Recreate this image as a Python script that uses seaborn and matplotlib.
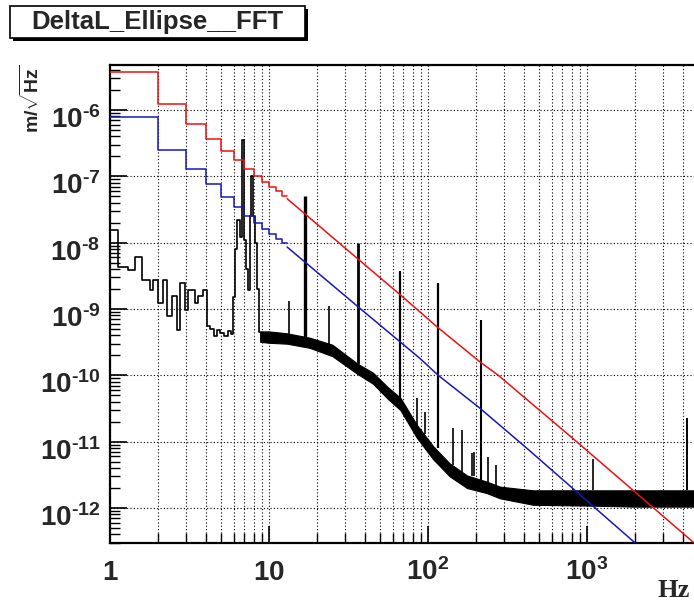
import numpy as np
import pandas as pd
import matplotlib
matplotlib.use("Agg")
import matplotlib.pyplot as plt
import matplotlib.ticker as mticker
import matplotlib.transforms as mtransforms
from matplotlib.patches import Rectangle
import seaborn as sns

# ---------------- data ----------------
title_text = "DeltaL_Ellipse__FFT"

# red model curve: 1 Hz bins at low frequency, then the straight tail
red_bin_edges = [1, 2, 3, 4, 5, 6, 7, 8, 9, 10, 11, 12, 13]
red_bin_vals = [3.77e-6, 1.23e-6, 6.15e-7, 3.65e-7, 2.4e-7, 1.78e-7, 1.28e-7,
                1.0e-7, 8.3e-8, 7.0e-8, 6.0e-8, 5.1e-8]
red_tail_f = [13, 36.5, 66.7, 116, 212, 277, 861, 4700]
red_tail_v = [4.6e-8, 5.6e-9, 1.65e-9, 5.2e-10, 1.6e-10, 1.0e-10, 1.0e-11, 3.0e-13]

# blue model curve
blue_bin_edges = [1, 2, 3, 4, 5, 6, 7, 8, 9, 10, 11, 12, 13]
blue_bin_vals = [7.9e-7, 2.5e-7, 1.27e-7, 7.6e-8, 4.85e-8, 3.45e-8, 2.5e-8,
                 1.95e-8, 1.6e-8, 1.35e-8, 1.15e-8, 9.8e-9]
blue_tail_f = [13, 36.5, 89, 116, 212, 428, 2000]
blue_tail_v = [8.6e-9, 1.07e-9, 1.8e-10, 1.0e-10, 3.2e-11, 7.6e-12, 3.0e-13]

# black measured spectrum, low-frequency histogram part
black_edges = [1.0, 1.128, 1.304, 1.436, 1.58, 1.785, 1.87, 2.01, 2.165, 2.29,
               2.44, 2.63, 2.76, 2.96, 3.11, 3.42, 3.59, 3.86, 4.06, 4.26,
               4.5, 4.7, 4.92, 5.2, 5.5, 5.75, 5.97, 6.1, 6.3, 6.55,
               6.75, 7.0, 7.2, 7.4, 7.6, 7.75, 7.95, 8.15, 8.4, 8.6, 8.8]
black_vals = [1.56e-8, 4.37e-9, 3.89e-9, 6.0e-9, 2.75e-9, 1.95e-9, 2.75e-9, 1.23e-9, 2.75e-9, 7.8e-10,
              1.55e-9, 4.9e-10, 2.45e-9, 9.8e-10, 1.95e-9, 1.23e-9, 1.55e-9, 1.95e-9, 5.5e-10, 5.0e-10,
              3.9e-10, 4.9e-10, 4.4e-10, 3.9e-10, 4.6e-10, 4.2e-10, 1.5e-9, 8e-9, 2.2e-8, 1.2e-8,
              3.5e-7, 1.1e-8, 4e-9, 1.95e-9, 2.5e-8, 1.0e-7, 2.5e-8, 1.0e-8, 2.0e-9, 4.5e-10]

# black measured spectrum, noise floor envelope above ~9 Hz
band_f = [8.8, 10, 13, 18, 25, 36, 45, 56, 67, 85, 108, 137, 176, 234, 284, 458, 745, 1214, 1970, 4710]
band_lo = [3.2e-10, 3.1e-10, 3.0e-10, 2.6e-10, 1.95e-10, 1.05e-10, 7.5e-11, 4.4e-11, 3.0e-11, 1.15e-11,
           5.4e-12, 3.0e-12, 2.0e-12, 1.68e-12, 1.4e-12, 1.12e-12, 1.1e-12, 1.08e-12, 1.05e-12, 1.05e-12]
band_hi = [4.6e-10, 4.6e-10, 4.3e-10, 3.7e-10, 2.9e-10, 1.5e-10, 1.1e-10, 6.6e-11, 4.6e-11, 1.8e-11,
           8.5e-12, 4.7e-12, 3.1e-12, 2.5e-12, 2.1e-12, 1.85e-12, 1.85e-12, 1.85e-12, 1.85e-12, 1.85e-12]

# narrow lines in the measured spectrum
spike_f = [13.4, 16.8, 23.9, 36.5, 66.7, 85.7, 95.6, 116, 144, 164, 188, 194, 214, 240, 267, 1096, 4240]
spike_top = [1.3e-9, 5.1e-8, 1.1e-9, 1.0e-8, 3.7e-9, 4.5e-11, 2.8e-11, 2.5e-9, 1.6e-11, 1.5e-11,
             6.8e-12, 7e-12, 6.9e-10, 5.8e-12, 4.4e-12, 5.4e-12, 2.3e-11]
spike_base = [4e-10, 3.5e-10, 3e-10, 1.5e-10, 4.5e-11, 1.8e-11, 1.3e-11, 8e-12, 4.5e-12, 3.5e-12,
              3e-12, 3e-12, 2.5e-12, 2.4e-12, 2.2e-12, 1.9e-12, 1.9e-12]

x_ticks = [1, 10, 100, 1000]
x_ticklabels = ["1", "10", "10^{2}", "10^{3}"]
y_ticks = [1e-12, 1e-11, 1e-10, 1e-9, 1e-8, 1e-7, 1e-6]
y_ticklabels = ["10^{\\text{-}12}", "10^{\\text{-}11}", "10^{\\text{-}10}", "10^{\\text{-}9}",
                "10^{\\text{-}8}", "10^{\\text{-}7}", "10^{\\text{-}6}"]
x_label = "Hz"
y_label = r"$\mathbf{m/\sqrt{Hz}}$"

# ---------------- style ----------------
sns.set_style("ticks")
plt.rcParams["font.family"] = ["Liberation Sans", "DejaVu Sans"]
plt.rcParams["mathtext.fontset"] = "custom"
plt.rcParams["mathtext.rm"] = "Liberation Sans:bold"
plt.rcParams["mathtext.bf"] = "Liberation Sans:bold"
plt.rcParams["mathtext.it"] = "Liberation Sans:italic"

W, H = 694, 601
fig = plt.figure(figsize=(W / 100, H / 100), dpi=100, facecolor="white")
ax = fig.add_axes([110 / W, (H - 543) / H, 1.0 - 110 / W, (543 - 65) / H])
ax.set_facecolor("white")


def step_frame(edges, vals):
    return pd.DataFrame({"f": edges, "v": list(vals) + [vals[-1]]})


RED = "#ee1010"
BLUE = "#1818b8"

# black measured spectrum
ax.fill_between(band_f, band_lo, band_hi, color="black", lw=0.8, zorder=2)
sns.lineplot(data=step_frame(black_edges, black_vals), x="f", y="v", ax=ax,
             drawstyle="steps-post", estimator=None, sort=False,
             color="black", lw=1.2, zorder=2)
spike_w = [1.2, 2.4, 1.2, 2.0, 1.6, 1.2, 1.2, 1.6, 1.2, 1.2, 1.2, 1.2, 1.5, 1.2, 1.2, 1.2, 1.4]
ax.vlines(spike_f, spike_base, spike_top, colors="black", linewidths=spike_w, zorder=2)

# blue and red curves
sns.lineplot(data=step_frame(blue_bin_edges, blue_bin_vals), x="f", y="v", ax=ax,
             drawstyle="steps-post", estimator=None, sort=False, color=BLUE, lw=1.1, zorder=3)
sns.lineplot(x=blue_tail_f, y=blue_tail_v, ax=ax, estimator=None, sort=False,
             color=BLUE, lw=1.1, zorder=3)
sns.lineplot(data=step_frame(red_bin_edges, red_bin_vals), x="f", y="v", ax=ax,
             drawstyle="steps-post", estimator=None, sort=False, color=RED, lw=1.1, zorder=4)
sns.lineplot(x=red_tail_f, y=red_tail_v, ax=ax, estimator=None, sort=False,
             color=RED, lw=1.1, zorder=4)

# ---------------- axes ----------------
ax.set_xscale("log")
ax.set_yscale("log")
ax.set_xlim(1, 10 ** ((W - 110) / 159))
ax.set_ylim(10 ** -12.527, 10 ** -5.322)
ax.set_xlabel("")
ax.set_ylabel("")

ax.xaxis.set_major_locator(mticker.FixedLocator(x_ticks))
ax.yaxis.set_major_locator(mticker.FixedLocator(y_ticks))
ax.xaxis.set_minor_locator(mticker.LogLocator(base=10, subs=np.arange(2, 10), numticks=100))
ax.yaxis.set_minor_locator(mticker.LogLocator(base=10, subs=np.arange(2, 10), numticks=100))
ax.xaxis.set_minor_formatter(mticker.NullFormatter())
ax.yaxis.set_minor_formatter(mticker.NullFormatter())

ax.set_xticklabels([r"$\mathbf{%s}$" % s for s in x_ticklabels], fontsize=20, va="baseline")
ax.set_yticklabels([r"$\mathbf{%s}$" % s for s in y_ticklabels], fontsize=20, va="baseline")

ax.tick_params(axis="both", which="major", direction="in", length=12, width=1.2,
               color="black", top=False, right=False)
ax.tick_params(axis="both", which="minor", direction="in", length=7, width=1.0,
               color="black", top=False, right=False)
ax.tick_params(axis="x", which="major", pad=27)
ax.tick_params(axis="y", which="major", pad=7)

shift = mtransforms.ScaledTranslation(0, -18 / 100, fig.dpi_scale_trans)
for t in ax.yaxis.get_major_ticks():
    t.label1.set_transform(t.label1.get_transform() + shift)

ax.grid(which="major", axis="y", color="black", linestyle=(0, (1, 2)), lw=0.8)
ax.grid(which="both", axis="x", color="black", linestyle=(0, (1, 2)), lw=0.8)

for side in ["left", "bottom", "top"]:
    ax.spines[side].set_linewidth(1.6)
    ax.spines[side].set_color("black")
ax.spines["right"].set_visible(False)

# ---------------- decorations ----------------
bx0, by0, bx1, by1 = 10, 6, 305, 38
fig.patches.append(Rectangle(((bx0 + 3) / W, (H - by1 - 3) / H), (bx1 - bx0) / W, (by1 - by0) / H,
                             transform=fig.transFigure, facecolor="black", edgecolor="black",
                             lw=0, zorder=1))
fig.patches.append(Rectangle((bx0 / W, (H - by1) / H), (bx1 - bx0) / W, (by1 - by0) / H,
                             transform=fig.transFigure, facecolor="white", edgecolor="black",
                             lw=1.2, zorder=2))
fig.text((bx0 + bx1) / 2 / W, 1 - (by0 + by1) / 2 / H, title_text, ha="center", va="center",
         fontsize=18.5, fontweight="bold", family=["Liberation Sans", "DejaVu Sans"], zorder=3)

fig.text(31 / W, 1 - 64 / H, y_label, rotation=90, ha="center", va="top", fontsize=14)
fig.text(657 / W, (H - 597) / H, x_label, ha="left", va="baseline", fontsize=19,
         fontweight="bold", family=["Liberation Serif", "DejaVu Serif"])

fig.savefig("out.png", dpi=100, facecolor="white")
